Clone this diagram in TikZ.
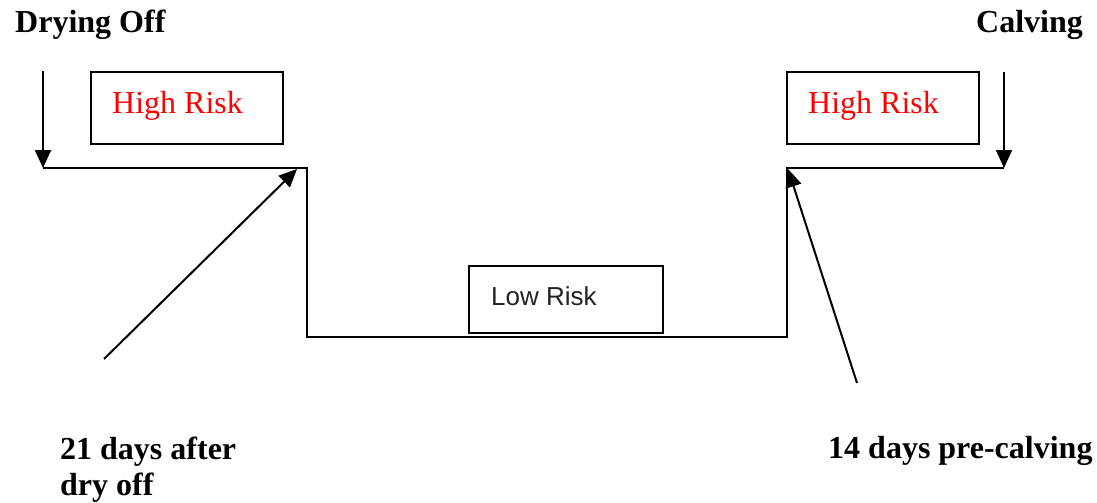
\documentclass[tikz,border=0pt]{standalone}
\usepackage{fontspec}
\setmainfont{Liberation Serif}
\newfontfamily\lowfont{Liberation Sans}
\usetikzlibrary{arrows.meta}
\definecolor{lowgray}{HTML}{222222}
\tikzset{
  line/.style={line width=2pt},
  arr/.style={line width=2pt,-{Triangle[length=18pt,width=16pt]}},
  box/.style={draw,line width=2pt,inner sep=0pt},
  title/.style={font=\fontsize{32}{36}\selectfont\bfseries,anchor=base west,inner sep=0pt},
  hr/.style={font=\fontsize{32}{34}\selectfont,text=red,anchor=base west,inner sep=0pt},
  lr/.style={font=\lowfont\fontsize{26}{30}\selectfont,text=lowgray,anchor=base west,inner sep=0pt}
}
\begin{document}
\begin{tikzpicture}[x=1pt,y=-1pt]
\useasboundingbox (0,0) rectangle (1097,503);
% titles
\node[title] (dry) at (15,33) {Drying Off};
\node[title] (calv) at (976,33) {Calving};
% boxes
\node[box,minimum width=192pt,minimum height=72pt] (box1) at (187,108) {};
\node[hr] (t1) at (112,113) {High Risk};
\node[box,minimum width=192pt,minimum height=72pt] (box2) at (883,108) {};
\node[hr] (t2) at (808,113) {High Risk};
\node[box,minimum width=194pt,minimum height=67pt] (box3) at (566,299.5) {};
\node[lr] (t3) at (491,305) {Low Risk};
% step path
\coordinate (p1) at (43,168);
\coordinate (p2) at (307,168);
\coordinate (p3) at (307,337);
\coordinate (p4) at (787,337);
\coordinate (p5) at (787,168);
\coordinate (p6) at (1004,168);
\draw[line] (p1) -- (p2) -- (p3) -- (p4) -- (p5) -- (p6);
% down arrows
\coordinate (d1) at (43,71);
\coordinate (d2) at (1004,72);
\draw[arr] (d1) -- (p1);
\draw[arr] (d2) -- (p6);
% diagonal arrows
\coordinate (s1) at (104,359);
\coordinate (e1) at (297,169);
\coordinate (s2) at (857,383);
\coordinate (e2) at (788,169);
\draw[arr] (s1) -- (e1);
\draw[arr] (s2) -- (e2);
% labels
\node[title] (l1) at (60,459) {21 days after};
\node[title] (l1b) at (60,495) {dry off};
\node[title] (l2) at (828,458) {14 days pre-calving};
\end{tikzpicture}
\end{document}
